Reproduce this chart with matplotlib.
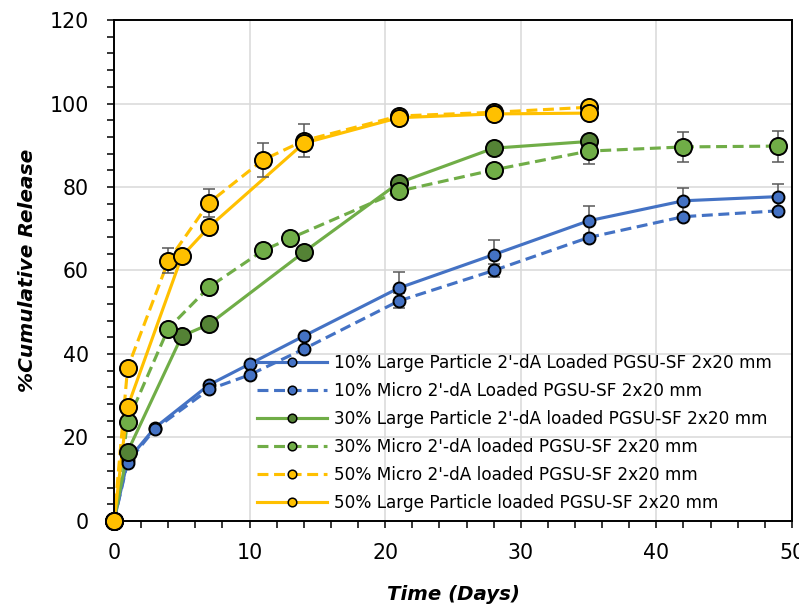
import matplotlib
matplotlib.use("Agg")
import matplotlib.pyplot as plt
from matplotlib.lines import Line2D
from matplotlib.ticker import MultipleLocator

# days and % cumulative release
days_10_large = [0, 1, 3, 7, 10, 14, 21, 28, 35, 42, 49]
rel_10_large = [0, 14.5, 22.3, 32.6, 37.6, 44.3, 55.8, 63.8, 71.9, 76.7, 77.7]
err_10_large = [0, 0, 0, 0, 0, 0, 3.8, 3.6, 3.5, 3.1, 3.0]

days_10_micro = [0, 1, 3, 7, 10, 14, 21, 28, 35, 42, 49]
rel_10_micro = [0, 14.0, 22.0, 31.5, 35.0, 41.2, 52.7, 60.0, 67.9, 72.9, 74.3]
err_10_micro = [0, 0, 0, 0, 0, 0, 1.8, 1.6, 0, 0, 0]

days_30_large = [0, 1, 5, 7, 14, 21, 28, 35]
rel_30_large = [0, 16.6, 44.3, 47.1, 64.4, 81.0, 89.3, 90.9]
err_30_large = [0, 0, 0, 0, 0, 0, 0, 0]

days_30_micro = [0, 1, 4, 7, 11, 13, 21, 28, 35, 42, 49]
rel_30_micro = [0, 23.8, 46.1, 56.0, 64.8, 67.7, 79.0, 84.1, 88.6, 89.6, 89.8]
err_30_micro = [0, 0, 0, 0, 0, 0, 0, 0, 3.1, 3.6, 3.7]

days_50_micro = [0, 1, 4, 7, 11, 14, 21, 28, 35]
rel_50_micro = [0, 36.6, 62.3, 76.2, 86.5, 91.1, 97.0, 97.9, 99.1]
err_50_micro = [0, 0, 3.0, 3.3, 4.0, 4.0, 0, 0, 0]

days_50_large = [0, 1, 5, 7, 14, 21, 28, 35]
rel_50_large = [0, 27.3, 63.4, 70.4, 90.5, 96.6, 97.5, 97.7]
err_50_large = [0, 0, 0, 0, 0, 0, 0, 0]

labels = [
    "10% Large Particle 2'-dA Loaded PGSU-SF 2x20 mm",
    "10% Micro 2'-dA Loaded PGSU-SF 2x20 mm",
    "30% Large Particle 2'-dA loaded PGSU-SF 2x20 mm",
    "30% Micro 2'-dA loaded PGSU-SF 2x20 mm",
    "50% Micro 2'-dA loaded PGSU-SF 2x20 mm",
    "50% Large Particle loaded PGSU-SF 2x20 mm",
]

blue = "#4472C4"
green = "#70AD47"
dkgreen = "#548235"
gold = "#FFC000"

# (x, y, err, line colour, marker colour, dashed?, marker size)
series = [
    (days_10_large, rel_10_large, err_10_large, blue, blue, False, 8.6),
    (days_10_micro, rel_10_micro, err_10_micro, blue, blue, True, 8.6),
    (days_30_large, rel_30_large, err_30_large, green, dkgreen, False, 12.3),
    (days_30_micro, rel_30_micro, err_30_micro, green, green, True, 12.3),
    (days_50_micro, rel_50_micro, err_50_micro, gold, gold, True, 12.3),
    (days_50_large, rel_50_large, err_50_large, gold, gold, False, 12.3),
]

fig = plt.figure(figsize=(7.99, 6.08), dpi=100)
ax = fig.add_axes([0.1427, 0.1431, 0.8485, 0.824])

handles = []
for i, (x, y, e, lc, mc, dashed, ms) in enumerate(series):
    ls = (0, (3.5, 1.8)) if dashed else "-"
    ax.plot(x, y, color=lc, lw=2.25, ls=ls, zorder=2, solid_capstyle="butt",
            dash_capstyle="butt")
    if any(e):
        ax.errorbar(x, y, yerr=e, fmt="none", ecolor="#595959", elinewidth=1.1,
                    capsize=4.3, capthick=1.1, zorder=2.5 + i * 0.1)
    ax.plot(x, y, ls="none", marker="o", ms=ms, mfc=mc, mec="black", mew=1.4,
            zorder=3 + i * 0.1, clip_on=False)
    handles.append(Line2D([], [], color=lc, lw=2.25, ls=ls, marker="o", ms=6.2,
                          mfc=mc, mec="black", mew=1.1))

ax.set_xlim(0, 50)
ax.set_ylim(0, 120)
ax.xaxis.set_major_locator(MultipleLocator(10))
ax.xaxis.set_minor_locator(MultipleLocator(2))
ax.yaxis.set_major_locator(MultipleLocator(20))
ax.yaxis.set_minor_locator(MultipleLocator(4))
ax.grid(True, which="major", color="#D9D9D9", lw=1.1, zorder=0)
ax.set_axisbelow(True)

ax.tick_params(which="both", direction="out", length=5, width=1.1, color="black")
ax.tick_params(axis="x", which="major", labelsize=14.8, pad=11)
ax.tick_params(axis="y", which="major", labelsize=14.8, pad=13)
for sp in ax.spines.values():
    sp.set_linewidth(1.4)
    sp.set_color("black")

ax.set_xlabel("Time (Days)", fontsize=14.2, fontweight="bold", style="italic",
              labelpad=16)
ax.set_ylabel("%Cumulative Release", fontsize=14.5, fontweight="bold",
              style="italic", labelpad=9)

leg = ax.legend(handles, labels, loc="upper left", bbox_to_anchor=(0.2015, 0.346),
                borderaxespad=0, frameon=False, fontsize=12.2, handlelength=4.1,
                handletextpad=0.4, labelspacing=0.59)

fig.savefig("out.png", dpi=100)
